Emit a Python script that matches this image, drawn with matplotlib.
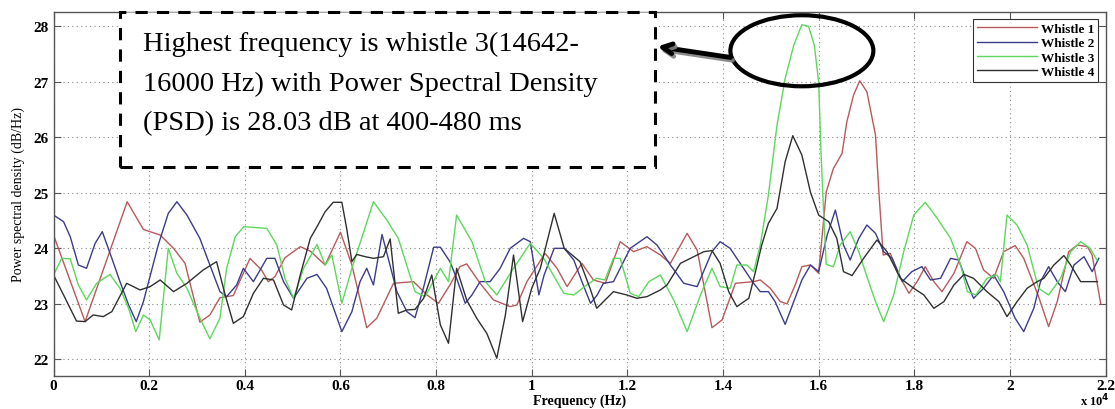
import numpy as np
import matplotlib.pyplot as plt
import matplotlib.patheffects as pe
from matplotlib.patches import Ellipse, Rectangle

# frequency in units of 10^4 Hz, PSD in dB/Hz
w1_f = [0.0, 0.066, 0.154, 0.188, 0.223, 0.251, 0.275, 0.306, 0.327, 0.348, 0.376, 0.411, 0.435, 0.449,
        0.463, 0.484, 0.516, 0.537, 0.568, 0.600, 0.624, 0.655, 0.676, 0.711, 0.753, 0.781, 0.805, 0.829,
        0.850, 0.864, 0.892, 0.920, 0.955, 0.969, 0.990, 1.028, 1.053, 1.074, 1.105, 1.129, 1.154, 1.185,
        1.213, 1.241, 1.269, 1.290, 1.325, 1.346, 1.377, 1.398, 1.426, 1.464, 1.478, 1.499, 1.520, 1.534,
        1.551, 1.565, 1.583, 1.600, 1.616, 1.631, 1.649, 1.659, 1.673, 1.686, 1.701, 1.719, 1.726, 1.735,
        1.750, 1.764, 1.789, 1.806, 1.823, 1.841, 1.858, 1.883, 1.910, 1.928, 1.945, 1.966, 1.987, 2.011,
        2.029, 2.060, 2.081, 2.099, 2.123, 2.141, 2.162, 2.172, 2.190]
w1_p = [24.24, 22.68, 24.84, 24.34, 24.24, 24.0, 23.73, 22.67, 22.8, 23.11, 23.15, 23.82, 23.61, 23.4,
        23.49, 23.83, 24.03, 23.95, 23.7, 24.29, 23.7, 22.57, 22.74, 23.37, 23.4, 23.16, 23.01, 23.34,
        23.67, 23.72, 23.37, 23.07, 22.95, 22.98, 23.4, 23.91, 23.64, 23.31, 23.73, 23.43, 23.37, 24.12,
        23.94, 24.03, 23.88, 23.73, 24.27, 23.97, 22.57, 22.71, 23.37, 23.4, 23.43, 23.28, 23.04, 23.0,
        23.34, 23.67, 23.7, 23.55, 25.02, 25.44, 25.71, 26.28, 26.76, 27.02, 26.82, 26.04, 25.02, 23.88,
        23.91, 23.58, 23.19, 23.4, 23.67, 23.4, 23.22, 23.55, 24.12, 24.0, 23.61, 23.46, 23.94, 24.05,
        23.82, 23.13, 22.59, 23.04, 23.94, 24.06, 24.03, 23.88, 23.0]

w2_f = [0.0, 0.021, 0.035, 0.052, 0.069, 0.087, 0.102, 0.122, 0.139, 0.157, 0.173, 0.188, 0.219, 0.240,
        0.258, 0.279, 0.306, 0.327, 0.348, 0.362, 0.383, 0.397, 0.418, 0.446, 0.463, 0.481, 0.502, 0.530,
        0.551, 0.571, 0.603, 0.624, 0.641, 0.655, 0.669, 0.687, 0.718, 0.739, 0.756, 0.774, 0.795, 0.809,
        0.829, 0.843, 0.861, 0.875, 0.892, 0.913, 0.934, 0.955, 0.983, 0.997, 1.015, 1.026, 1.047, 1.068,
        1.088, 1.105, 1.123, 1.137, 1.150, 1.171, 1.185, 1.206, 1.241, 1.262, 1.290, 1.318, 1.346, 1.377,
        1.394, 1.415, 1.443, 1.464, 1.478, 1.495, 1.509, 1.530, 1.548, 1.565, 1.583, 1.600, 1.618, 1.635,
        1.652, 1.666, 1.684, 1.701, 1.719, 1.736, 1.754, 1.775, 1.795, 1.816, 1.834, 1.855, 1.876, 1.893,
        1.911, 1.924, 1.945, 1.966, 1.987, 2.011, 2.029, 2.050, 2.064, 2.081, 2.099, 2.116, 2.134, 2.155,
        2.172, 2.186]
w2_p = [24.6, 24.48, 24.21, 23.7, 23.64, 24.09, 24.3, 23.82, 23.4, 22.98, 22.68, 23.04, 24.06, 24.63,
        24.84, 24.6, 24.18, 23.7, 23.22, 23.13, 23.34, 23.64, 23.4, 23.82, 23.82, 23.4, 23.1, 23.46,
        23.53, 23.28, 22.5, 22.86, 23.4, 23.64, 23.34, 24.25, 23.22, 22.86, 22.75, 23.3, 24.02, 24.02,
        23.76, 23.46, 23.01, 23.16, 23.4, 23.4, 23.64, 24.0, 24.18, 24.12, 23.16, 23.52, 24.0, 24.0,
        23.79, 23.4, 23.01, 23.16, 23.37, 23.4, 23.64, 24.0, 24.21, 24.06, 23.7, 23.37, 23.31, 23.94,
        24.12, 24.0, 23.64, 23.37, 23.22, 23.22, 23.04, 22.63, 23.04, 23.43, 23.7, 23.58, 24.24, 24.69,
        24.06, 23.79, 24.18, 24.42, 24.27, 23.94, 23.82, 23.4, 23.58, 23.67, 23.43, 23.46, 23.82, 23.79,
        23.37, 23.1, 23.28, 23.52, 23.22, 22.74, 22.5, 22.92, 23.4, 23.67, 23.4, 23.22, 23.7, 23.85,
        23.58, 23.82]

w3_f = [0.0, 0.017, 0.035, 0.052, 0.069, 0.090, 0.118, 0.139, 0.157, 0.172, 0.188, 0.202, 0.221, 0.240,
        0.258, 0.279, 0.303, 0.327, 0.348, 0.362, 0.380, 0.398, 0.446, 0.467, 0.484, 0.502, 0.523, 0.551,
        0.568, 0.582, 0.603, 0.624, 0.669, 0.697, 0.721, 0.756, 0.777, 0.809, 0.826, 0.843, 0.875, 0.903,
        0.927, 0.962, 0.997, 1.025, 1.067, 1.088, 1.115, 1.136, 1.153, 1.171, 1.185, 1.206, 1.224, 1.245,
        1.269, 1.297, 1.325, 1.353, 1.377, 1.394, 1.415, 1.429, 1.450, 1.464, 1.478, 1.495, 1.513, 1.530,
        1.548, 1.565, 1.579, 1.591, 1.600, 1.605, 1.611, 1.616, 1.631, 1.645, 1.666, 1.684, 1.701, 1.719,
        1.736, 1.757, 1.778, 1.799, 1.823, 1.848, 1.876, 1.897, 1.911, 1.929, 1.952, 1.973, 1.980, 1.994,
        2.015, 2.036, 2.060, 2.081, 2.106, 2.127, 2.148, 2.168, 2.182]
w3_p = [23.52, 23.82, 23.81, 23.34, 23.07, 23.37, 23.53, 23.28, 22.92, 22.5, 22.8, 22.71, 22.35, 24.0,
        23.55, 23.28, 22.8, 22.37, 22.74, 23.64, 24.21, 24.39, 24.36, 24.06, 23.46, 23.1, 23.64, 24.07,
        23.7, 23.88, 23.01, 23.64, 24.84, 24.51, 24.18, 23.22, 23.13, 23.64, 23.4, 24.6, 24.12, 23.4,
        23.16, 23.64, 24.09, 23.82, 23.19, 23.16, 23.34, 23.46, 23.43, 23.82, 23.82, 23.19, 23.13, 23.4,
        23.52, 23.07, 22.5, 23.16, 23.64, 23.31, 23.28, 23.7, 23.7, 23.58, 24.06, 24.96, 26.22, 27.06,
        27.66, 28.03, 28.0, 27.66, 27.0, 25.74, 24.54, 23.71, 23.67, 24.06, 24.3, 23.94, 23.49, 23.04,
        22.68, 23.16, 23.94, 24.6, 24.83, 24.54, 24.18, 23.7, 23.22, 23.16, 23.46, 23.52, 23.4, 24.6,
        24.42, 24.06, 23.28, 23.16, 23.46, 23.94, 24.12, 24.0, 23.79]

w4_f = [0.0, 0.021, 0.048, 0.066, 0.083, 0.104, 0.122, 0.153, 0.181, 0.202, 0.223, 0.251, 0.279, 0.313,
        0.341, 0.359, 0.376, 0.397, 0.418, 0.439, 0.460, 0.481, 0.498, 0.516, 0.537, 0.551, 0.568, 0.585,
        0.603, 0.613, 0.624, 0.634, 0.652, 0.669, 0.690, 0.704, 0.721, 0.739, 0.756, 0.774, 0.791, 0.809,
        0.826, 0.843, 0.864, 0.885, 0.906, 0.927, 0.945, 0.962, 0.981, 1.000, 1.018, 1.047, 1.068, 1.101,
        1.122, 1.136, 1.150, 1.171, 1.199, 1.220, 1.241, 1.269, 1.283, 1.311, 1.332, 1.360, 1.377, 1.394,
        1.412, 1.429, 1.454, 1.468, 1.481, 1.495, 1.513, 1.530, 1.546, 1.565, 1.583, 1.600, 1.621, 1.638,
        1.652, 1.670, 1.694, 1.722, 1.743, 1.771, 1.799, 1.820, 1.841, 1.862, 1.883, 1.904, 1.924, 1.952,
        1.977, 1.994, 2.015, 2.036, 2.057, 2.071, 2.092, 2.113, 2.127, 2.148, 2.169, 2.183]
w4_p = [23.52, 23.16, 22.69, 22.68, 22.8, 22.77, 22.86, 23.37, 23.25, 23.31, 23.43, 23.22, 23.37, 23.61,
        23.76, 23.16, 22.65, 22.77, 23.19, 23.46, 23.43, 22.98, 22.89, 23.52, 24.18, 24.39, 24.66, 24.83,
        24.83, 24.36, 23.76, 23.89, 23.85, 23.82, 23.85, 24.17, 22.83, 22.89, 22.9, 23.1, 23.52, 22.62,
        22.29, 23.64, 23.07, 22.74, 22.47, 22.02, 22.8, 23.88, 22.68, 23.28, 23.64, 24.63, 24.0, 23.76,
        23.28, 22.92, 23.04, 23.22, 23.16, 23.1, 23.13, 23.25, 23.34, 23.73, 23.82, 23.94, 23.96, 23.73,
        23.22, 22.95, 23.1, 23.58, 24.06, 24.45, 24.72, 25.56, 26.03, 25.68, 25.01, 24.6, 24.48, 24.18,
        23.58, 23.51, 23.82, 24.15, 23.94, 23.46, 23.28, 23.16, 22.92, 23.04, 23.34, 23.53, 23.46, 23.22,
        23.04, 22.77, 23.04, 23.28, 23.4, 23.46, 23.7, 23.87, 23.7, 23.4, 23.4, 23.4]

labels = ['Whistle 1', 'Whistle 2', 'Whistle 3', 'Whistle 4']
colors = ['#b85a5a', '#3c3c8c', '#5cd85c', '#303030']
xticks = [0, 0.2, 0.4, 0.6, 0.8, 1, 1.2, 1.4, 1.6, 1.8, 2, 2.2]
xticklabels = ['0', '0.2', '0.4', '0.6', '0.8', '1', '1.2', '1.4', '1.6', '1.8', '2', '2.2']
yticks = [22, 23, 24, 25, 26, 27, 28]
note = ('Highest frequency is whistle 3(14642-\n'
        '16000 Hz) with Power Spectral Density\n'
        '(PSD) is 28.03 dB at 400-480 ms')

serif = ['Liberation Serif', 'DejaVu Serif']

fig = plt.figure(figsize=(11.15, 4.10), dpi=100)
ax = fig.add_axes([0.048, 0.0805, 0.9435, 0.888])

series = [(w1_f, w1_p), (w2_f, w2_p), (w3_f, w3_p), (w4_f, w4_p)]
for (f, p), lab, c in zip(series, labels, colors):
    ax.plot(f, p, color=c, lw=1.0, label=lab)

ax.set_xlim(0, 2.2)
ax.set_ylim(21.7, 28.26)
ax.set_xticks(xticks)
ax.set_xticklabels(xticklabels)
ax.set_yticks(yticks)
ax.grid(True, color='#888888', linestyle=(0, (1, 3)), lw=0.8)
ax.tick_params(direction='in', length=5, top=True, right=True, width=0.8, color='#555555')
ax.tick_params(axis='x', pad=2)
for lab in ax.get_xticklabels() + ax.get_yticklabels():
    lab.set_family(serif)
    lab.set_fontweight('bold')
    lab.set_fontsize(11)
for s in ax.spines.values():
    s.set_color('#555555')
    s.set_linewidth(1.0)

ax.set_xlabel('Frequency (Hz)', family=serif, fontweight='bold', fontsize=10, labelpad=1)
ax.set_ylabel('Power spectral density (dB/Hz)', family=serif, fontsize=10, labelpad=6)
ax.text(0.976, -0.066, r'x 10$^\mathbf{4}$', transform=ax.transAxes, family=serif,
        fontweight='bold', fontsize=9, ha='left', va='center')

leg = ax.legend(loc='upper right', bbox_to_anchor=(0.999, 0.999),
                prop={'family': serif, 'weight': 'bold', 'size': 9.5},
                handlelength=4.5, handletextpad=0.3, labelspacing=0.15, borderpad=0.3,
                fancybox=False, framealpha=1, edgecolor='#333333')
leg.get_frame().set_linewidth(0.8)

# dashed note box
box = Rectangle((0.063, 0.574), 0.509, 0.426, transform=ax.transAxes, facecolor='white',
                edgecolor='black', lw=2.2, linestyle=(0, (4, 3)), zorder=5, clip_on=False)
ax.add_patch(box)
ax.text(0.085, 0.947, note, transform=ax.transAxes, family=serif, fontsize=20.5,
        ha='left', va='top', linespacing=1.75, zorder=6)

# ellipse around the whistle 3 peak
ipk = int(np.argmax(w3_p))
cx, cy = w3_f[ipk], w3_p[ipk] - 0.47
ell = Ellipse((cx, cy), 0.299, 1.28, fill=False, lw=3, color='black', zorder=6, clip_on=False)
ax.add_patch(ell)
ax.annotate('', xy=(0.574, 0.905), xycoords='axes fraction',
            xytext=(cx - 0.1495, cy - 0.12), textcoords='data',
            arrowprops=dict(arrowstyle='->,head_length=0.7,head_width=0.35', lw=3.5, color='black',
                            shrinkA=0, shrinkB=0,
                            path_effects=[pe.SimpleLineShadow(offset=(1.5, -2), shadow_color='gray', alpha=0.9),
                                          pe.Normal()]),
            zorder=7)

fig.savefig('out.png', dpi=100)
